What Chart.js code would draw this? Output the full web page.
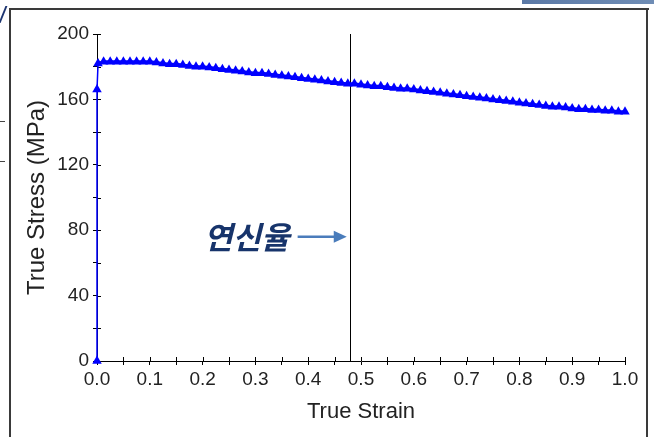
<!DOCTYPE html>
<html>
<head>
<meta charset="utf-8">
<script src="https://cdn.jsdelivr.net/npm/chart.js@4/dist/chart.umd.min.js"></script>
<style>
  html, body { margin: 0; padding: 0; background: #fff; }
  #wrap { position: relative; width: 654px; height: 437px; overflow: hidden; background: #fff; }
  #chart { position: absolute; left: 0; top: 0; }
  .frame-l { position: absolute; left: 9px; top: 8px; width: 2px; height: 440px; background: #3a3a3a; }
  .frame-t { position: absolute; left: 9px; top: 8px; width: 640px; height: 2px; background: #3a3a3a; }
  .frame-r { position: absolute; left: 646px; top: 8px; width: 2px; height: 440px; background: #3a3a3a; }
  .bar { position: absolute; left: 522px; top: 0; width: 132px; height: 4px; background: linear-gradient(90deg, #5b79a6, #6f8db5); }
  .slash { position: absolute; left: 2px; top: 6px; width: 2px; height: 17px; background: #1c3470; transform: skewX(-22deg); }
  .tk { position: absolute; left: 0; width: 5px; height: 1px; background: #444; }
</style>
</head>
<body>
<div id="wrap">
  <div class="bar"></div>
  <div class="slash"></div>
  <div class="tk" style="top:121px"></div>
  <div class="tk" style="top:161px"></div>
  <div class="frame-l"></div>
  <div class="frame-t"></div>
  <div class="frame-r"></div>
  <canvas id="chart" width="654" height="437"></canvas>
</div>
<script>
const strain = [
  0, 0, 0.002, 0.0125, 0.025, 0.0375, 0.05, 0.0625, 0.075, 0.0875, 0.1,
  0.1125, 0.125, 0.1375, 0.15, 0.1625, 0.175, 0.1875, 0.2,
  0.2125, 0.225, 0.2375, 0.25, 0.2625, 0.275, 0.2875, 0.3,
  0.3125, 0.325, 0.3375, 0.35, 0.3625, 0.375, 0.3875, 0.4,
  0.4125, 0.425, 0.4375, 0.45, 0.4625, 0.475, 0.4875, 0.5,
  0.5125, 0.525, 0.5375, 0.55, 0.5625, 0.575, 0.5875, 0.6,
  0.6125, 0.625, 0.6375, 0.65, 0.6625, 0.675, 0.6875, 0.7,
  0.7125, 0.725, 0.7375, 0.75, 0.7625, 0.775, 0.7875, 0.8,
  0.8125, 0.825, 0.8375, 0.85, 0.8625, 0.875, 0.8875, 0.9,
  0.9125, 0.925, 0.9375, 0.95, 0.9625, 0.975, 0.9875, 1.0
];
const stress = [
  0, 166, 182, 183, 183, 183, 183, 183, 183, 183, 183,
  182.5, 182, 181.5, 181.5, 181, 180.5, 180, 180,
  179.5, 179, 178.5, 178, 177.5, 177, 176.5, 176,
  176, 175.5, 175, 174.5, 174, 173.5, 173, 172.5,
  172, 171.5, 171, 170.5, 170, 169.5, 169.5, 169,
  168.5, 168, 168, 167.5, 167, 166.5, 166.5, 166,
  165.5, 165, 164.5, 164, 163.5, 163, 162.5, 162,
  161.5, 161, 160.5, 160, 159.5, 159, 158.5, 158,
  157.5, 157, 156.5, 156, 155.5, 155.5, 155, 154.5,
  154, 154, 153.5, 153.5, 153, 153, 152.5, 152.5
];

const xTicks = [0, 1.0];       // range of true strain
const yTicks = [0, 200];       // range of true stress
const elongation = 0.48;       // vertical marker
const noteText = '연신율';
const arrowFrom = [0.38, 76];
const arrowTo = [0.473, 76];

// tick marks that also point into the plot
const innerTicks = {
  id: 'innerTicks',
  beforeDatasetsDraw(chart) {
    const { ctx, scales: { x, y } } = chart;
    ctx.save();
    ctx.strokeStyle = '#000';
    ctx.lineWidth = 1;
    ctx.beginPath();
    x.ticks.forEach(t => {
      const px = Math.round(x.getPixelForValue(t.value)) + 0.5;
      ctx.moveTo(px, y.bottom);
      ctx.lineTo(px, y.bottom - 4);
    });
    y.ticks.forEach(t => {
      const py = Math.round(y.getPixelForValue(t.value)) + 0.5;
      ctx.moveTo(x.left, py);
      ctx.lineTo(x.left + 4, py);
    });
    // elongation line
    const ex = Math.round(x.getPixelForValue(elongation)) + 0.5;
    ctx.moveTo(ex, y.top);
    ctx.lineTo(ex, y.bottom);
    ctx.stroke();
    ctx.restore();
  },
  afterDatasetsDraw(chart) {
    const { ctx, scales: { x, y } } = chart;
    const x1 = x.getPixelForValue(arrowFrom[0]);
    const y1 = y.getPixelForValue(arrowFrom[1]);
    const x2 = x.getPixelForValue(arrowTo[0]);
    ctx.save();
    ctx.strokeStyle = '#4a7cbb';
    ctx.fillStyle = '#4a7cbb';
    ctx.lineWidth = 2.5;
    ctx.beginPath();
    ctx.moveTo(x1, y1);
    ctx.lineTo(x2 - 10, y1);
    ctx.stroke();
    ctx.beginPath();
    ctx.moveTo(x2, y1);
    ctx.lineTo(x2 - 13, y1 - 6);
    ctx.lineTo(x2 - 13, y1 + 6);
    ctx.closePath();
    ctx.fill();
    ctx.fillStyle = '#17346b';
    ctx.font = 'italic bold 31px "Noto Sans CJK KR"';
    ctx.textAlign = 'right';
    ctx.textBaseline = 'middle';
    ctx.fillText(noteText, x1 - 8, y1);
    ctx.restore();
  }
};

const tickFont = { family: '"Liberation Sans", Arial, sans-serif', size: 19 };

new Chart(document.getElementById('chart'), {
  type: 'scatter',
  data: {
    datasets: [{
      data: strain.map((s, i) => ({ x: s, y: stress[i] })),
      showLine: true,
      borderColor: '#0000ff',
      backgroundColor: '#0000ff',
      borderWidth: 3,
      segment: { borderWidth: c => c.p0DataIndex < 2 ? 1.5 : 3 },
      pointStyle: 'triangle',
      pointRadius: 5.5,
      pointBorderWidth: 0,
      clip: false
    }]
  },
  options: {
    responsive: false,
    animation: false,
    layout: { padding: { top: 34, right: 29, left: 0, bottom: 0 } },
    plugins: { legend: { display: false }, tooltip: { enabled: false } },
    scales: {
      x: {
        type: 'linear',
        min: xTicks[0], max: xTicks[1],
        afterFit: s => { s.height = 76; },
        border: { color: '#000', width: 1 },
        grid: { drawOnChartArea: false, tickLength: 4, tickColor: '#000' },
        ticks: {
          stepSize: 0.05, color: '#222', font: tickFont, padding: 3, maxRotation: 0,
          autoSkip: false,
          callback: v => Math.round(v * 100) % 10 === 0 ? v.toFixed(1) : ''
        },
        title: {
          display: true, text: 'True Strain', color: '#222',
          font: { family: '"Liberation Sans", Arial, sans-serif', size: 22 },
          padding: { top: 0, bottom: 12 }
        }
      },
      y: {
        min: yTicks[0], max: yTicks[1],
        afterFit: s => { s.width = 97; },
        border: { color: '#000', width: 1 },
        grid: { drawOnChartArea: false, tickLength: 4, tickColor: '#000' },
        ticks: {
          stepSize: 20, color: '#222', font: tickFont, padding: 4, autoSkip: false,
          callback: v => v % 40 === 0 ? String(v) : ''
        },
        title: {
          display: true, text: 'True Stress (MPa)', color: '#222',
          font: { family: '"Liberation Sans", Arial, sans-serif', size: 24 },
          padding: { top: 23, bottom: 0 }
        }
      }
    }
  },
  plugins: [innerTicks]
});
</script>
</body>
</html>
